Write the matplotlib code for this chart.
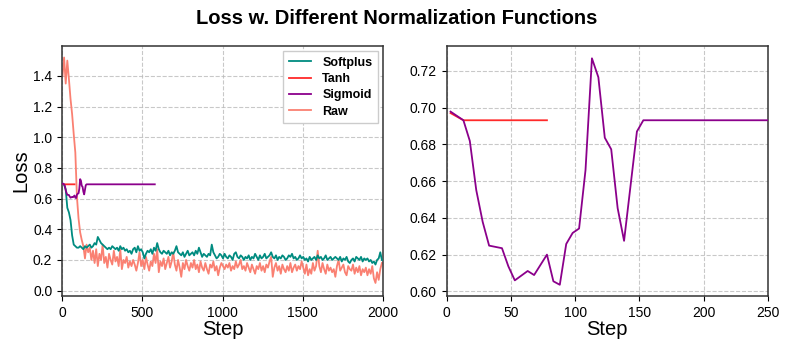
import numpy as np
import matplotlib
matplotlib.use("Agg")
import matplotlib.pyplot as plt

plt.rcParams['font.family'] = ['Liberation Sans', 'DejaVu Sans']

# ---- data ----
steps = list(range(3, 2000, 10))

softplus = [
    0.70, 0.69, 0.66, 0.54, 0.51, 0.46, 0.36, 0.30, 0.29, 0.28,
    0.28, 0.29, 0.28, 0.27, 0.29, 0.28, 0.29, 0.30, 0.28, 0.29,
    0.31, 0.30, 0.35, 0.33, 0.31, 0.30, 0.29, 0.28, 0.27, 0.28,
    0.27, 0.29, 0.28, 0.27, 0.28, 0.26, 0.29, 0.27, 0.28, 0.26,
    0.27, 0.25, 0.26, 0.24, 0.27, 0.28, 0.25, 0.29, 0.26, 0.27,
    0.25, 0.21, 0.24, 0.26, 0.25, 0.27, 0.24, 0.28, 0.26, 0.31,
    0.27, 0.25, 0.24, 0.26, 0.25, 0.24, 0.26, 0.23, 0.25, 0.24,
    0.26, 0.29, 0.25, 0.24, 0.23, 0.25, 0.22, 0.24, 0.26, 0.23,
    0.24, 0.25, 0.23, 0.26, 0.24, 0.28, 0.25, 0.22, 0.24, 0.23,
    0.22, 0.24, 0.23, 0.30, 0.25, 0.23, 0.21, 0.22, 0.24, 0.23,
    0.21, 0.24, 0.22, 0.21, 0.23, 0.22, 0.20, 0.24, 0.25, 0.22,
    0.21, 0.23, 0.22, 0.20, 0.22, 0.21, 0.23, 0.20, 0.22, 0.21,
    0.24, 0.22, 0.20, 0.23, 0.21, 0.22, 0.24, 0.21, 0.22, 0.23,
    0.25, 0.22, 0.21, 0.23, 0.20, 0.22, 0.21, 0.23, 0.22, 0.20,
    0.21, 0.23, 0.22, 0.24, 0.21, 0.22, 0.20, 0.21, 0.23, 0.21,
    0.22, 0.20, 0.21, 0.19, 0.22, 0.20, 0.21, 0.22, 0.20, 0.23,
    0.21, 0.22, 0.20, 0.21, 0.23, 0.20, 0.21, 0.22, 0.20, 0.21,
    0.22, 0.21, 0.20, 0.22, 0.19, 0.21, 0.20, 0.22, 0.19, 0.18,
    0.20, 0.21, 0.19, 0.22, 0.21, 0.20, 0.22, 0.19, 0.21, 0.20,
    0.21, 0.19, 0.20, 0.18, 0.19, 0.17, 0.20, 0.21, 0.25, 0.20,
]

raw = [
    1.40, 1.52, 1.35, 1.50, 1.38, 1.25, 1.15, 1.02, 0.90, 0.61,
    0.47, 0.38, 0.33, 0.29, 0.21, 0.30, 0.25, 0.28, 0.20, 0.26,
    0.18, 0.27, 0.16, 0.24, 0.20, 0.30, 0.18, 0.22, 0.15, 0.24,
    0.20, 0.17, 0.26, 0.19, 0.22, 0.16, 0.27, 0.14, 0.20, 0.18,
    0.22, 0.15, 0.19, 0.16, 0.20, 0.17, 0.13, 0.18, 0.25, 0.16,
    0.20, 0.14, 0.22, 0.17, 0.13, 0.19, 0.16, 0.24, 0.18, 0.27,
    0.12, 0.19, 0.16, 0.21, 0.14, 0.18, 0.22, 0.15, 0.19, 0.25,
    0.17, 0.13, 0.20, 0.15, 0.09, 0.18, 0.14, 0.20, 0.16, 0.13,
    0.18, 0.15, 0.20, 0.14, 0.17, 0.12, 0.19, 0.15, 0.13, 0.18,
    0.14, 0.11, 0.17, 0.15, 0.19, 0.13, 0.16, 0.10, 0.15, 0.18,
    0.16, 0.14, 0.17, 0.15, 0.18, 0.13, 0.16, 0.14, 0.19, 0.15,
    0.17, 0.20, 0.14, 0.16, 0.13, 0.18, 0.15, 0.12, 0.17, 0.14,
    0.11, 0.16, 0.14, 0.18, 0.13, 0.16, 0.12, 0.17, 0.15, 0.19,
    0.22, 0.09, 0.15, 0.18, 0.13, 0.16, 0.11, 0.17, 0.14, 0.12,
    0.16, 0.13, 0.18, 0.12, 0.15, 0.17, 0.13, 0.16, 0.14, 0.19,
    0.15, 0.11, 0.17, 0.10, 0.14, 0.11, 0.18, 0.13, 0.16, 0.26,
    0.16, 0.12, 0.18, 0.14, 0.11, 0.17, 0.13, 0.15, 0.12, 0.14,
    0.09, 0.16, 0.20, 0.13, 0.15, 0.17, 0.12, 0.10, 0.16, 0.14,
    0.13, 0.17, 0.11, 0.15, 0.12, 0.16, 0.10, 0.14, 0.12, 0.15,
    0.10, 0.14, 0.11, 0.16, 0.08, 0.05, 0.12, 0.07, 0.14, 0.18,
]

tanh_steps = [3, 13, 23, 33, 43, 53, 63, 78]
tanh = [0.6970, 0.6931, 0.6931, 0.6931, 0.6931, 0.6931, 0.6931, 0.6931]

sigmoid_steps = [3, 13, 18, 23, 28, 33, 43, 48, 53, 63, 68, 78, 83, 88, 93,
                 98, 103, 108, 113, 118, 123, 128, 133, 138, 148, 153, 578]
sigmoid = [0.6978, 0.6931, 0.6818, 0.6551, 0.6378, 0.6249, 0.6235, 0.6136,
           0.6060, 0.6111, 0.6089, 0.6200, 0.6055, 0.6036, 0.6258, 0.6318,
           0.6342, 0.6660, 0.7268, 0.7165, 0.6836, 0.6773, 0.6453, 0.6275,
           0.6870, 0.6931, 0.6931]

left_xticks = [0, 500, 1000, 1500, 2000]
left_yticks = [0.0, 0.2, 0.4, 0.6, 0.8, 1.0, 1.2, 1.4]
right_xticks = [0, 50, 100, 150, 200, 250]
right_yticks = [0.60, 0.62, 0.64, 0.66, 0.68, 0.70, 0.72]

c_soft = '#008B80'
c_tanh = '#FF2A2A'
c_sig = '#8B008B'
c_raw = '#FA8072'

fig = plt.figure(figsize=(7.93, 3.53), dpi=100)
ax1 = fig.add_axes([0.0782, 0.1615, 0.4048, 0.7082])
ax2 = fig.add_axes([0.5633, 0.1615, 0.4052, 0.7082])

ax1.plot(steps, softplus, color=c_soft, lw=1.3, label='Softplus', zorder=3)
ax1.plot(tanh_steps, tanh, color=c_tanh, lw=1.3, label='Tanh', zorder=4)
ax1.plot(sigmoid_steps, sigmoid, color=c_sig, lw=1.3, label='Sigmoid', zorder=5)
ax1.plot(steps, raw, color=c_raw, lw=1.3, label='Raw', zorder=2)

ax2.plot(tanh_steps, tanh, color=c_tanh, lw=1.3, zorder=3)
ax2.plot(sigmoid_steps, sigmoid, color=c_sig, lw=1.3, zorder=4)

ax1.set_xlim(0, 2000)
ax1.set_ylim(-0.035, 1.595)
ax1.set_xticks(left_xticks)
ax1.set_yticks(left_yticks)
ax1.set_yticklabels([f'{v:.1f}' for v in left_yticks])
ax2.set_xlim(0, 250)
ax2.set_ylim(0.5975, 0.7335)
ax2.set_xticks(right_xticks)
ax2.set_yticks(right_yticks)
ax2.set_yticklabels([f'{v:.2f}' for v in right_yticks])

for ax in (ax1, ax2):
    ax.grid(True, linestyle='--', color='#bbbbbb', lw=0.8, alpha=0.8)
    ax.set_axisbelow(True)
    ax.tick_params(labelsize=10, length=3.5, width=0.8)
    for s in ax.spines.values():
        s.set_color('#333333')
        s.set_linewidth(1.1)
    ax.set_xlabel('Step', fontsize=14.5, labelpad=0)

ax1.set_ylabel('Loss', fontsize=14.5, labelpad=2)

leg = ax1.legend(loc='upper right', prop={'weight': 'bold', 'size': 9},
                 framealpha=1.0, edgecolor='#cccccc', fancybox=False,
                 handlelength=1.8, borderpad=0.45, labelspacing=0.35,
                 handletextpad=0.9, borderaxespad=0.4)

fig.suptitle('Loss w. Different Normalization Functions', fontsize=14.5,
             fontweight='bold', y=0.975)

fig.savefig('out.png', dpi=100)
